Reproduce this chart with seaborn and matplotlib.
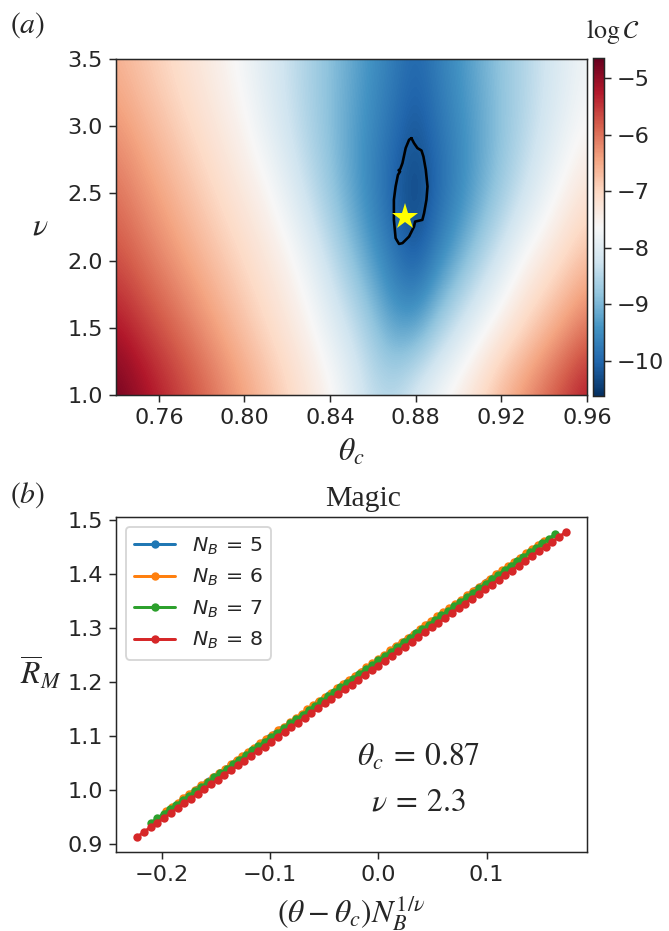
import numpy as np
import matplotlib
matplotlib.use("Agg")
import matplotlib.pyplot as plt
import seaborn as sns

# ---- panel (a): log C over (theta_c, nu) ----
GRID_THETA = [0.74, 0.75, 0.76, 0.77, 0.78, 0.79, 0.80, 0.81, 0.82, 0.83, 0.84, 0.85,
              0.86, 0.87, 0.88, 0.89, 0.90, 0.91, 0.92, 0.93, 0.94, 0.95, 0.96]
GRID_NU = [1.0, 1.5, 2.0, 2.5, 3.0, 3.5]
LOGC_NU_1_0 = [-4.70, -4.98, -5.26, -5.54, -5.82, -6.11, -6.39, -6.67, -6.95, -7.23, -7.51, -7.90,
               -8.35, -8.40, -8.00, -7.65, -7.35, -7.00, -6.60, -6.25, -5.90, -5.55, -5.20]
LOGC_NU_1_5 = [-5.20, -5.46, -5.72, -5.97, -6.23, -6.49, -6.75, -7.01, -7.26, -7.52, -7.90, -8.30,
               -8.75, -9.25, -9.25, -8.70, -8.20, -7.75, -7.36, -7.02, -6.68, -6.34, -6.00]
LOGC_NU_2_0 = [-5.70, -5.92, -6.15, -6.37, -6.60, -6.82, -7.04, -7.27, -7.49, -7.85, -8.34, -8.83,
               -9.32, -9.80, -10.15, -9.60, -9.10, -8.60, -8.10, -7.60, -7.30, -7.00, -6.70]
LOGC_NU_2_5 = [-6.00, -6.22, -6.44, -6.66, -6.88, -7.10, -7.32, -7.53, -7.90, -8.34, -8.78, -9.22,
               -9.66, -10.10, -10.45, -10.03, -9.60, -9.17, -8.74, -8.30, -7.87, -7.50, -7.20]
LOGC_NU_3_0 = [-6.30, -6.51, -6.72, -6.93, -7.14, -7.35, -7.56, -7.90, -8.23, -8.57, -8.90, -9.23,
               -9.57, -9.90, -10.20, -9.87, -9.53, -9.20, -8.87, -8.53, -8.20, -7.87, -7.60]
LOGC_NU_3_5 = [-6.60, -6.78, -6.96, -7.15, -7.33, -7.51, -7.75, -8.02, -8.30, -8.59, -8.87, -9.15,
               -9.44, -9.72, -10.00, -9.70, -9.40, -9.10, -8.80, -8.55, -8.25, -8.00, -7.75]
CBAR_MIN, CBAR_MAX = -10.62, -4.64

# outline of the minimum region (black contour)
CONTOUR_THETA = [0.8780, 0.8792, 0.8808, 0.8827, 0.8836, 0.8847, 0.8855, 0.8850,
                 0.8839, 0.8831, 0.8797, 0.8792, 0.8769, 0.8738, 0.8722, 0.8706,
                 0.8698, 0.8698, 0.8706, 0.8717, 0.8727, 0.8720, 0.8728, 0.8738,
                 0.8753, 0.8769, 0.8780]
CONTOUR_NU = [2.911, 2.874, 2.837, 2.819, 2.774, 2.675, 2.551, 2.452,
              2.353, 2.303, 2.290, 2.253, 2.179, 2.130, 2.124, 2.167,
              2.303, 2.452, 2.551, 2.638, 2.663, 2.672, 2.682, 2.725,
              2.837, 2.899, 2.911]
BEST_THETA, BEST_NU = 0.875, 2.323

# ---- panel (b): data collapse ----
THETA_C = 0.87
NU = 2.3
N_B = [5, 6, 7, 8]
THETA = [0.7800, 0.7825, 0.7850, 0.7875, 0.7900, 0.7925, 0.7950, 0.7975,
         0.8000, 0.8025, 0.8050, 0.8075, 0.8100, 0.8125, 0.8150, 0.8175,
         0.8200, 0.8225, 0.8250, 0.8275, 0.8300, 0.8325, 0.8350, 0.8375,
         0.8400, 0.8425, 0.8450, 0.8475, 0.8500, 0.8525, 0.8550, 0.8575,
         0.8600, 0.8625, 0.8650, 0.8675, 0.8700, 0.8725, 0.8750, 0.8775,
         0.8800, 0.8825, 0.8850, 0.8875, 0.8900, 0.8925, 0.8950, 0.8975,
         0.9000, 0.9025, 0.9050, 0.9075, 0.9100, 0.9125, 0.9150, 0.9175,
         0.9200, 0.9225, 0.9250, 0.9275, 0.9300, 0.9325, 0.9350, 0.9375,
         0.9400]
R_NB5 = [0.981, 0.988, 0.995, 1.003, 1.010, 1.017, 1.024, 1.032,
         1.039, 1.046, 1.053, 1.060, 1.068, 1.075, 1.082, 1.089,
         1.097, 1.104, 1.111, 1.118, 1.125, 1.133, 1.140, 1.147,
         1.154, 1.162, 1.169, 1.176, 1.183, 1.190, 1.198, 1.205,
         1.212, 1.219, 1.226, 1.234, 1.241, 1.248, 1.255, 1.263,
         1.270, 1.277, 1.284, 1.291, 1.299, 1.306, 1.313, 1.320,
         1.328, 1.335, 1.342, 1.349, 1.356, 1.364, 1.371, 1.378,
         1.385, 1.393, 1.400, 1.407, 1.414, 1.421, 1.429, 1.436,
         1.443]
R_NB6 = [0.962, 0.969, 0.977, 0.985, 0.993, 1.001, 1.009, 1.016,
         1.024, 1.032, 1.040, 1.048, 1.056, 1.064, 1.071, 1.079,
         1.087, 1.095, 1.103, 1.111, 1.118, 1.126, 1.134, 1.142,
         1.150, 1.158, 1.165, 1.173, 1.181, 1.189, 1.197, 1.204,
         1.212, 1.220, 1.228, 1.236, 1.244, 1.251, 1.259, 1.267,
         1.275, 1.283, 1.290, 1.298, 1.306, 1.314, 1.322, 1.330,
         1.337, 1.345, 1.353, 1.361, 1.369, 1.376, 1.384, 1.392,
         1.400, 1.408, 1.416, 1.423, 1.431, 1.439, 1.447, 1.455,
         1.462]
R_NB7 = [0.940, 0.948, 0.957, 0.965, 0.973, 0.982, 0.990, 0.998,
         1.007, 1.015, 1.024, 1.032, 1.040, 1.049, 1.057, 1.065,
         1.074, 1.082, 1.090, 1.099, 1.107, 1.115, 1.124, 1.132,
         1.140, 1.149, 1.157, 1.165, 1.174, 1.182, 1.191, 1.199,
         1.207, 1.216, 1.224, 1.232, 1.241, 1.249, 1.257, 1.266,
         1.274, 1.282, 1.291, 1.299, 1.307, 1.316, 1.324, 1.332,
         1.341, 1.349, 1.358, 1.366, 1.374, 1.383, 1.391, 1.399,
         1.408, 1.416, 1.424, 1.433, 1.441, 1.449, 1.458, 1.466,
         1.474]
R_NB8 = [0.914, 0.923, 0.932, 0.940, 0.949, 0.958, 0.967, 0.976,
         0.984, 0.993, 1.002, 1.011, 1.020, 1.029, 1.037, 1.046,
         1.055, 1.064, 1.073, 1.081, 1.090, 1.099, 1.108, 1.117,
         1.125, 1.134, 1.143, 1.152, 1.161, 1.169, 1.178, 1.187,
         1.196, 1.205, 1.214, 1.222, 1.231, 1.240, 1.249, 1.258,
         1.266, 1.275, 1.284, 1.293, 1.302, 1.310, 1.319, 1.328,
         1.337, 1.346, 1.355, 1.363, 1.372, 1.381, 1.390, 1.399,
         1.407, 1.416, 1.425, 1.434, 1.443, 1.451, 1.460, 1.469,
         1.478]

sns.set_style("ticks")
plt.rcParams["font.family"] = ["DejaVu Sans"]
plt.rcParams["mathtext.fontset"] = "dejavusans"
plt.rcParams["xtick.labelsize"] = 12
plt.rcParams["ytick.labelsize"] = 12
SERIF = dict(family="Liberation Serif", math_fontfamily="stix")

W, H, DPI = 669, 931, 134
fig = plt.figure(figsize=(W / DPI, H / DPI), dpi=DPI)
ax1 = fig.add_axes([116 / W, 1 - 395 / H, 471 / W, 336 / H])
cax = fig.add_axes([593 / W, 1 - 396 / H, 11 / W, 338 / H])
ax2 = fig.add_axes([116 / W, 1 - 852 / H, 471 / W, 335 / H])

# ---- (a) heatmap ----
logc = np.array([LOGC_NU_1_0, LOGC_NU_1_5, LOGC_NU_2_0,
                 LOGC_NU_2_5, LOGC_NU_3_0, LOGC_NU_3_5])
dth = (GRID_THETA[1] - GRID_THETA[0]) / 2
dnu = (GRID_NU[1] - GRID_NU[0]) / 2
im = ax1.imshow(logc, origin="lower", aspect="auto", cmap="RdBu_r",
                interpolation="bicubic", vmin=CBAR_MIN, vmax=CBAR_MAX,
                extent=[GRID_THETA[0] - dth, GRID_THETA[-1] + dth,
                        GRID_NU[0] - dnu, GRID_NU[-1] + dnu])
ax1.plot(CONTOUR_THETA, CONTOUR_NU, color="black", lw=1.4)
ax1.plot([BEST_THETA], [BEST_NU], marker="*", color="yellow", ms=15,
         markeredgewidth=0, linestyle="none")
ax1.set_xlim(GRID_THETA[0], GRID_THETA[-1])
ax1.set_ylim(GRID_NU[0], GRID_NU[-1])
ax1.set_xticks([0.76, 0.80, 0.84, 0.88, 0.92, 0.96])
ax1.set_yticks([1.0, 1.5, 2.0, 2.5, 3.0, 3.5])
ax1.set_xlabel(r"$\theta_c$", fontsize=17, **SERIF)
ax1.xaxis.set_label_coords(0.5, -0.128)
ax1.set_ylabel(r"$\nu$", fontsize=17, rotation=0, va="center", ha="center", **SERIF)
ax1.yaxis.set_label_coords(-0.16, 0.5)

cb = fig.colorbar(im, cax=cax, ticks=[-10, -9, -8, -7, -6, -5])
cb.ax.tick_params(labelsize=12)
fig.text(613 / W, 1 - 32 / H, r"$\log\mathcal{C}$", fontsize=14,
         ha="center", va="center", **SERIF)

# ---- (b) data collapse ----
series = [R_NB5, R_NB6, R_NB7, R_NB8]
colors = sns.color_palette("tab10", 4)
for nb, r, c in zip(N_B, series, colors):
    x = (np.array(THETA) - THETA_C) * nb ** (1 / NU)
    sns.lineplot(x=x, y=r, ax=ax2, color=c, marker="o", markersize=4.5,
                 markeredgewidth=0, lw=1.6, label=r"$N_B\,=\,%d$" % nb)
ax2.legend(loc="upper left", fontsize=11)
ax2.set_xticks([-0.2, -0.1, 0.0, 0.1])
ax2.set_xlabel(r"$(\theta\:-\:\theta_c)N_B^{1/\nu}$", fontsize=17, **SERIF)
ax2.xaxis.set_label_coords(0.5, -0.122)
ax2.set_ylabel(r"$\overline{R}_M$", fontsize=17, rotation=0, va="center", ha="center", **SERIF)
ax2.yaxis.set_label_coords(-0.16, 0.534)
ax2.text(0.525, 1.055, "Magic", transform=ax2.transAxes, ha="center", va="center",
         fontsize=16, **SERIF)
ax2.text(0.643, 0.28, r"$\theta_c\:=\:0.87$", transform=ax2.transAxes,
         ha="center", va="center", fontsize=17, **SERIF)
ax2.text(0.643, 0.146, r"$\nu\:=\:2.3$", transform=ax2.transAxes,
         ha="center", va="center", fontsize=17, **SERIF)

fig.text(28 / W, 1 - 25 / H, r"$(a)$", fontsize=16, ha="center", va="center", **SERIF)
fig.text(28 / W, 1 - 495 / H, r"$(b)$", fontsize=16, ha="center", va="center", **SERIF)

fig.savefig("out.png", dpi=DPI)
